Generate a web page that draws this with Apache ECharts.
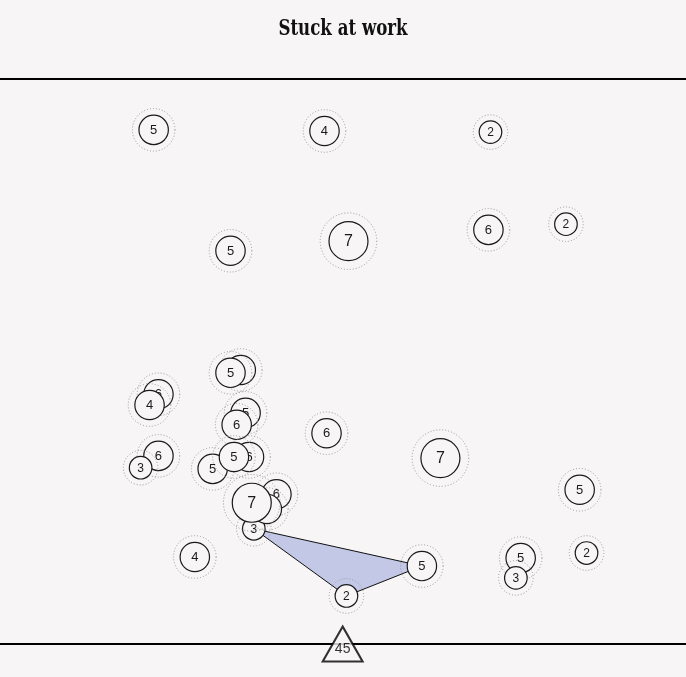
<!DOCTYPE html>
<html>
<head>
<meta charset="utf-8">
<script src="https://cdn.jsdelivr.net/npm/echarts@6/dist/echarts.min.js"></script>
<style>
html,body{margin:0;padding:0;background:#f7f5f6;}
#chart{width:686px;height:677px;}
</style>
</head>
<body>
<div id="chart"></div>
<script>
// Node values (label in each circle), in drawing order (back to front)
const nodeValues = [5, 4, 2, 5, 7, 6, 2, 5, 5, 6, 4, 5, 6, 6, 6, 3, 6, 5, 5, 7, 3, 6, 5, 7, 5, 4, 5, 5, 3, 2, 2];
// Node positions in layout units (x: 0-100 left to right, y: 0-100 bottom to top)
const nodeX = [22.4, 47.3, 71.5, 33.6, 50.8, 71.2, 82.5, 35.1, 33.6, 23.1, 21.8, 35.8, 34.5, 47.6, 23.1, 20.5, 36.3, 31.0, 34.1, 64.2, 37.0, 40.3, 38.9, 36.7, 84.5, 28.4, 61.5, 75.9, 75.2, 85.5, 50.5];
const nodeY = [91.0, 90.8, 90.6, 69.6, 71.3, 73.3, 74.3, 48.5, 48.0, 44.2, 42.3, 40.9, 38.8, 37.3, 33.3, 31.2, 33.1, 31.0, 33.1, 32.9, 20.4, 26.5, 23.9, 25.0, 27.3, 15.4, 13.8, 15.2, 11.7, 16.1, 8.5];
// Highlighted group (indices into the node arrays)
const groupIdx = [20, 26, 30];
// Marker on the baseline
const markerX = [49.95];
const markerY = [0];
const markerLabel = ['45'];
const titleText = 'Stuck at work';

const BG = '#f7f5f6';
const R = [11.3, 14.7, 19.5];
const RING = [17.3, 21.3, 28.3];
const FONT = [12, 13, 16];
function band(v){ return v >= 7 ? 2 : (v >= 4 ? 1 : 0); }

const nodeData = nodeValues.map((v, i) => [nodeX[i], nodeY[i], v]);
const polyData = [groupIdx.map(i => [nodeX[i], nodeY[i]])];

const chart = echarts.init(document.getElementById('chart'), null, {renderer: 'canvas'});
chart.setOption({
  backgroundColor: BG,
  animation: false,
  graphic: [{
    type: 'text',
    x: 343, y: 29,
    scaleX: 0.84,
    style: {
      text: titleText,
      font: 'bold 22px "DejaVu Serif Condensed", "DejaVu Serif", serif',
      fill: '#111',
      align: 'center',
      verticalAlign: 'middle'
    }
  }],
  grid: {left: 0, right: 0, top: 79, bottom: 33, show: false},
  xAxis: [
    {type: 'value', min: 0, max: 100, position: 'bottom',
     axisLine: {show: true, onZero: false, lineStyle: {color: '#000', width: 2}},
     axisTick: {show: false}, axisLabel: {show: false}, splitLine: {show: false}},
    {type: 'value', min: 0, max: 100, position: 'top',
     axisLine: {show: true, onZero: false, lineStyle: {color: '#000', width: 2}},
     axisTick: {show: false}, axisLabel: {show: false}, splitLine: {show: false}}
  ],
  yAxis: {type: 'value', min: 0, max: 100, show: false},
  series: [
    {
      type: 'custom',
      xAxisIndex: 0,
      clip: false,
      z: 1,
      data: polyData,
      renderItem: function (params, api) {
        const pts = polyData[params.dataIndex].map(p => api.coord(p));
        return {
          type: 'polygon',
          shape: {points: pts},
          style: {fill: '#c2c8e6', stroke: '#111', lineWidth: 1}
        };
      }
    },
    {
      type: 'custom',
      xAxisIndex: 0,
      clip: false,
      z: 2,
      data: nodeData,
      renderItem: function (params, api) {
        const v = api.value(2);
        const p = api.coord([api.value(0), api.value(1)]);
        const k = band(v);
        return {
          type: 'group',
          children: [
            {type: 'circle', shape: {cx: p[0], cy: p[1], r: RING[k]},
             style: {fill: 'none', stroke: '#9a9a9a', lineWidth: 1, lineDash: [1, 2]}},
            {type: 'circle', shape: {cx: p[0], cy: p[1], r: R[k]},
             style: {fill: BG, stroke: '#1a1a1a', lineWidth: 1.2}},
            {type: 'text',
             style: {x: p[0], y: p[1] + 0.5, text: String(v), fill: '#1a1a1a',
                     font: FONT[k] + 'px "Liberation Sans", Arial, sans-serif',
                     align: 'center', verticalAlign: 'middle'}}
          ]
        };
      }
    },
    {
      type: 'scatter',
      xAxisIndex: 0,
      clip: false,
      z: 5,
      symbol: 'triangle',
      symbolSize: [40, 35],
      itemStyle: {color: BG, borderColor: '#000', borderWidth: 2},
      label: {
        show: true, position: 'inside', offset: [0, 5],
        formatter: p => markerLabel[p.dataIndex],
        fontFamily: '"Liberation Sans", Arial, sans-serif',
        fontSize: 14, color: '#000'
      },
      data: markerX.map((x, i) => [x, markerY[i]])
    }
  ]
});
</script>
</body>
</html>
